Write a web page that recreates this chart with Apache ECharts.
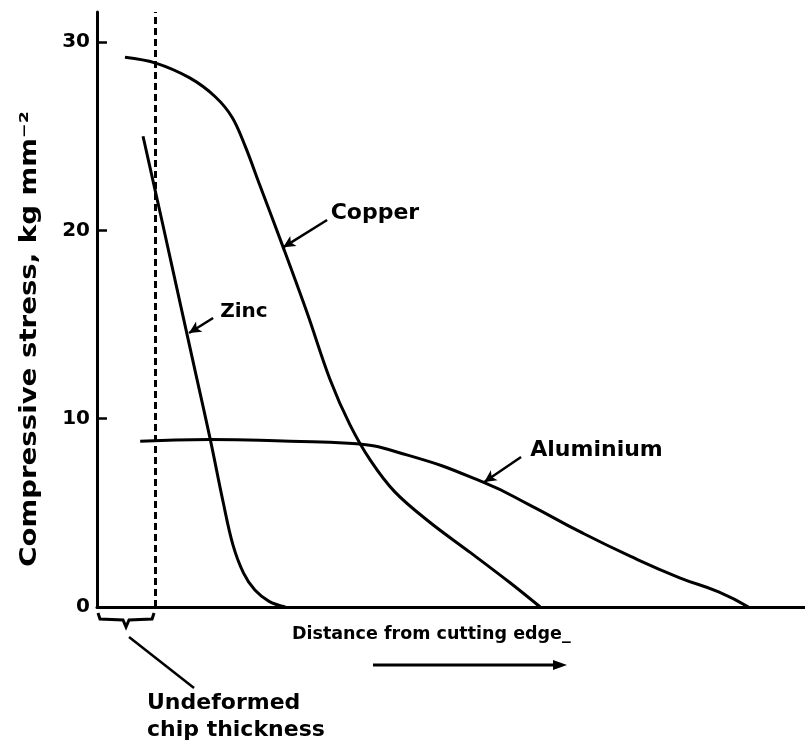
<!DOCTYPE html>
<html><head><meta charset="utf-8">
<script src="https://cdn.jsdelivr.net/npm/echarts@6/dist/echarts.min.js"></script>
<style>html,body{margin:0;padding:0;background:#fff}#c{width:805px;height:740px}</style>
</head><body><div id="c"></div>
<script>
// ---- data (distance in arbitrary units, stress in kg mm^-2) ----
const yTickValues = [0, 10, 20, 30];
const copperX = [3.95, 8.2, 13.1, 16.7, 19.1, 20.9, 23.0, 26.3, 29.7, 32.9, 35.7, 38.6, 42.1, 47.0, 52.7, 58.3, 62.6];
const copperY = [29.2, 28.9, 28.1, 27.1, 26.0, 24.5, 22.4, 19.1, 15.6, 12.1, 9.7, 7.8, 6.1, 4.5, 2.9, 1.3, 0];
const zincX = [6.5, 9.3, 12.0, 14.0, 16.0, 17.8, 19.2, 20.7, 22.3, 24.3, 26.6];
const zincY = [25.0, 20.3, 15.7, 12.3, 8.9, 5.6, 3.3, 1.8, 0.9, 0.3, 0];
const aluX = [6.1, 16.0, 27.3, 35.5, 44.0, 54.7, 61.2, 68.2, 75.3, 82.3, 87.8, 92.0];
const aluY = [8.8, 8.9, 8.8, 8.7, 8.05, 6.6, 5.4, 4.0, 2.7, 1.55, 0.8, 0];
const chipThickness = 8.2;
const labelNames = ['Copper', 'Zinc', 'Aluminium'];
const pointerFrom = [[32.5, 20.55], [16.4, 15.35], [59.9, 7.97]];
const pointerTo = [[26.3, 19.1], [13.0, 14.55], [54.7, 6.64]];
const labelAnchor = [[33.0, 20.9], [17.4, 15.7], [61.2, 8.34]];
const yTitle = 'Compressive stress, kg mm⁻²';
const xTitle = 'Distance from cutting edge_';
const chipText = ['Undeformed', 'chip thickness'];

// ---- styling ----
const X_MAX = 100, Y_MAX = 31.6;
const FONT = 'DejaVu Sans';
const BLACK = '#000';
const labelFontSize = { Copper: 22, Zinc: 20, Aluminium: 22 };
const smoothness = { Copper: 0.35, Zinc: 0.35, Aluminium: 0.5 };

function pairs(xs, ys) { return xs.map((x, i) => [x, ys[i]]); }
function arrowLine(i) {
  return [[{ coord: pointerFrom[i], symbol: 'none' }, { coord: pointerTo[i], symbol: 'arrow' }]];
}
function curve(name, xs, ys, idx) {
  return {
    name, type: 'line', data: pairs(xs, ys), showSymbol: false, smooth: smoothness[name],
    lineStyle: { color: BLACK, width: 3 }, silent: true,
    markLine: {
      silent: true, symbolSize: [9, 12], label: { show: false },
      lineStyle: { color: BLACK, width: 2.5, type: 'solid' },
      data: arrowLine(idx)
    }
  };
}

const chart = echarts.init(document.getElementById('c'), null, { renderer: 'canvas' });
const series = [
  curve('Copper', copperX, copperY, 0),
  curve('Zinc', zincX, zincY, 1),
  curve('Aluminium', aluX, aluY, 2)
];
series.push({
  type: 'line', data: [], silent: true,
  markLine: {
    silent: true, symbol: 'none', label: { show: false },
    lineStyle: { color: BLACK, width: 3, type: [7, 4] },
    data: [[{ coord: [chipThickness, 0] }, { coord: [chipThickness, Y_MAX] }]]
  }
});

chart.setOption({
  animation: false,
  backgroundColor: '#fff',
  grid: { left: 97, right: 0, top: 12, bottom: 133 },
  xAxis: {
    type: 'value', min: 0, max: X_MAX,
    axisLine: { show: true, lineStyle: { color: BLACK, width: 3 } },
    axisTick: { show: false }, axisLabel: { show: false }, splitLine: { show: false }
  },
  yAxis: {
    type: 'value', min: 0, max: Y_MAX, interval: 10,
    axisLine: { show: true, lineStyle: { color: BLACK, width: 3 } },
    axisTick: { show: true, inside: true, length: 10, lineStyle: { color: BLACK, width: 2.5 }, customValues: yTickValues.slice(1) },
    axisLabel: { color: BLACK, fontFamily: FONT, fontWeight: 'bold', fontSize: 20, margin: 7, customValues: yTickValues },
    splitLine: { show: false }
  },
  series
});

const P = (x, y) => chart.convertToPixel({ gridIndex: 0 }, [x, y]);
const o = P(0, 0), c = P(chipThickness, 0);
const yb = o[1] + 10, mid = (o[0] + c[0]) / 2;
const txt = (text, x, y, size, align, rot, sx) => ({
  type: 'text', x, y, rotation: rot || 0, scaleX: sx || 1,
  style: { text, fill: BLACK, font: 'bold ' + size + 'px "' + FONT + '"', textAlign: align || 'left', textVerticalAlign: 'middle' }
});
const graphics = [];
labelNames.forEach((n, i) => { const p = P(labelAnchor[i][0], labelAnchor[i][1]); graphics.push(txt(n, p[0], p[1], labelFontSize[n])); });
graphics.push(txt(yTitle, 30, 339, 23, 'center', Math.PI / 2, 1.2));
graphics.push(txt(xTitle, 292, o[1] + 27, 17.5));
// direction arrow under x title
graphics.push({ type: 'line', shape: { x1: 373, y1: o[1] + 58, x2: 556, y2: o[1] + 58 }, style: { stroke: BLACK, lineWidth: 3 } });
graphics.push({ type: 'polygon', shape: { points: [[553, o[1] + 53], [567, o[1] + 58], [553, o[1] + 63]] }, style: { fill: BLACK } });
// brace under chip thickness
graphics.push({
  type: 'polyline',
  shape: { points: [[o[0] + 1, yb - 4], [o[0] + 3, yb + 2], [mid - 3, yb + 3], [mid, yb + 10], [mid + 3, yb + 3], [c[0] - 3, yb + 2], [c[0] - 1, yb - 4]] },
  style: { stroke: BLACK, lineWidth: 3, fill: null }
});
graphics.push({ type: 'line', shape: { x1: mid + 3, y1: yb + 20, x2: mid + 68, y2: yb + 71 }, style: { stroke: BLACK, lineWidth: 2.5 } });
graphics.push(txt(chipText[0], 147, o[1] + 96, 22));
graphics.push(txt(chipText[1], 147, o[1] + 123, 22));
chart.setOption({ graphic: graphics });
</script></body></html>
